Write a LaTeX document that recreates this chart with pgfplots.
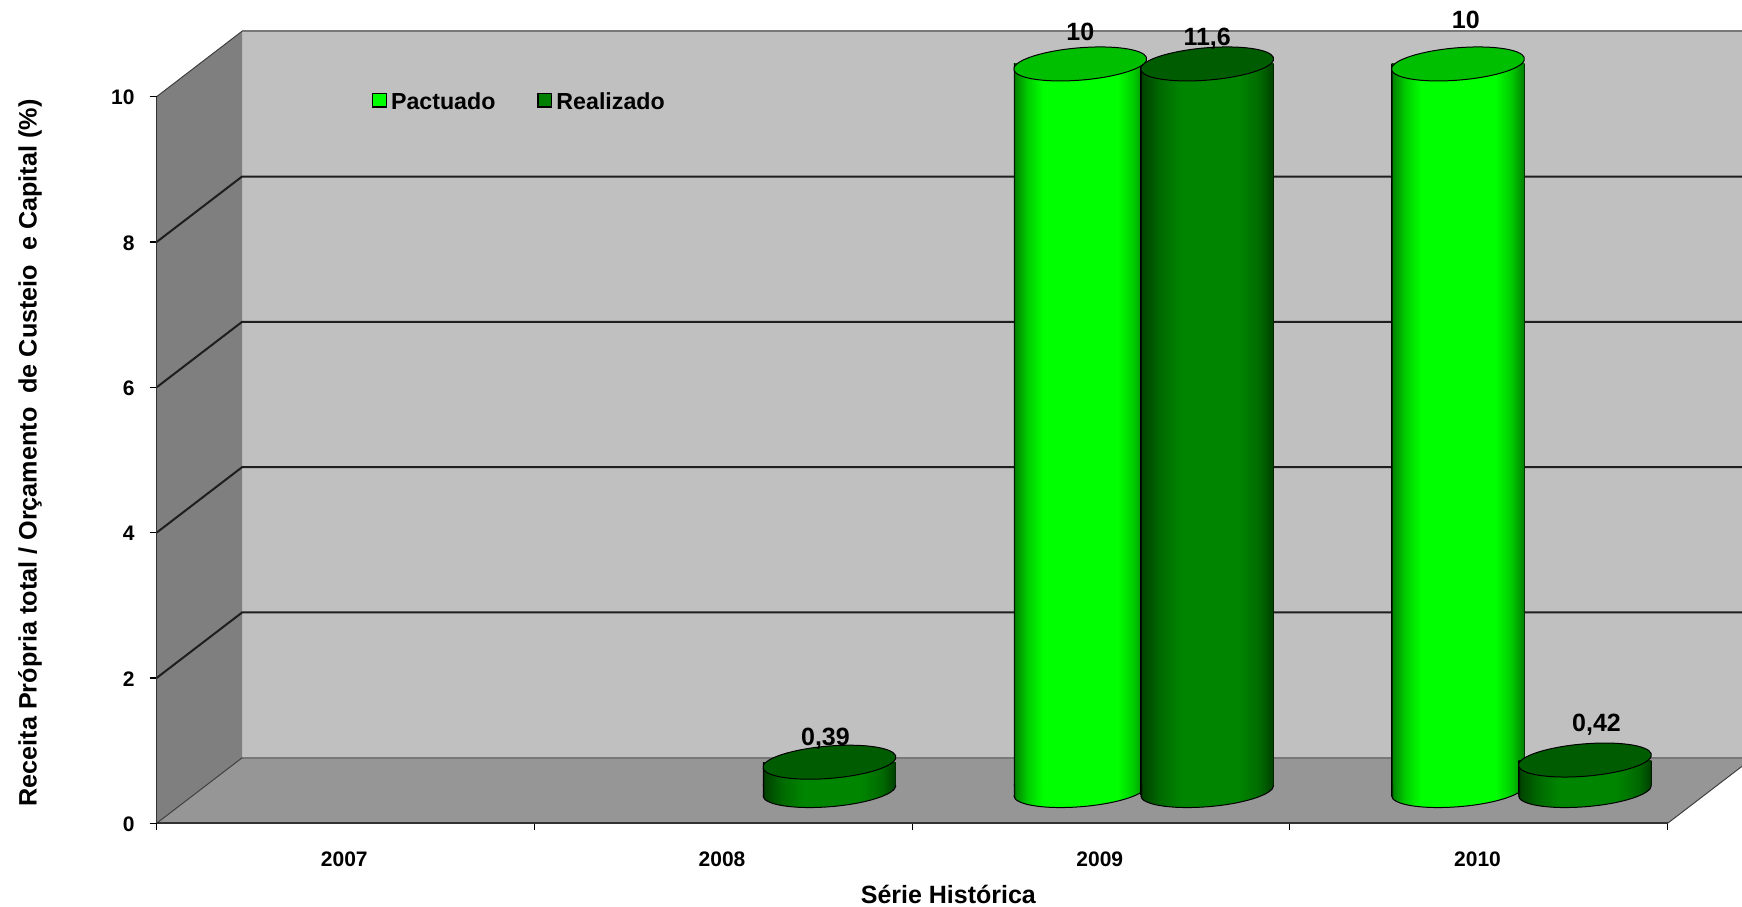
\documentclass[border=0pt]{standalone}
\usepackage{fontspec}
\setmainfont{Liberation Sans}
\usepackage{pgfplots}
\usepackage{pgfplotstable}
\pgfplotsset{compat=1.18}

\definecolor{sidewall}{RGB}{127,127,127}
\definecolor{floorgrey}{RGB}{150,150,150}
\definecolor{backwall}{RGB}{192,192,192}
\definecolor{edgegrey}{RGB}{120,120,120}
\definecolor{gridline}{RGB}{30,30,30}
\definecolor{pactcap}{RGB}{0,190,0}
\definecolor{realcap}{RGB}{0,92,0}

% Cylinder flanks: the path's width spans 25bp to 75bp of each shading
\pgfdeclarehorizontalshading{pactbody}{100bp}{
  rgb(0bp)=(0,0,0); rgb(25bp)=(0,0,0); rgb(25.5bp)=(0,.52,0);
  rgb(30bp)=(0,.80,0); rgb(36bp)=(0,1,0);
  rgb(64bp)=(0,1,0); rgb(70bp)=(0,.80,0);
  rgb(74.5bp)=(0,.52,0); rgb(75bp)=(0,0,0); rgb(100bp)=(0,0,0)}
\pgfdeclarehorizontalshading{realbody}{100bp}{
  rgb(0bp)=(0,0,0); rgb(25bp)=(0,0,0); rgb(25.5bp)=(0,.26,0);
  rgb(32bp)=(0,.41,0); rgb(40bp)=(0,.52,0);
  rgb(62bp)=(0,.52,0); rgb(70bp)=(0,.41,0);
  rgb(74.5bp)=(0,.26,0); rgb(75bp)=(0,0,0); rgb(100bp)=(0,0,0)}
\pgfdeclarehorizontalshading{pactflat}{100bp}{rgb(0bp)=(0,1,0); rgb(100bp)=(0,1,0)}
\pgfdeclarehorizontalshading{realflat}{100bp}{rgb(0bp)=(0,.5,0); rgb(100bp)=(0,.5,0)}

% Tilted ellipse closing the top of a cylinder
\pgfdeclareplotmark{cylcap}{%
  \pgfpathellipse{\pgfpointorigin}{\pgfqpoint{31.7pt}{0pt}}{\pgfqpoint{10pt}{8.5pt}}%
  \pgfusepathqfillstroke}
% Front half of the same ellipse, closing the foot of a cylinder
\newcommand{\cylfootarc}{%
  {\pgftransformcm{31.7}{0}{10}{8.5}{\pgfpointorigin}%
   \pgfpathmoveto{\pgfpointpolar{17.5}{1pt}}%
   \pgfpatharc{17.5}{-162.5}{1pt}}}
\newcommand{\cylfoot}[1]{%
  \cylfootarc
  \pgfpathlineto{\pgfqpoint{-33.25pt}{3.2pt}}%
  \pgfpathlineto{\pgfqpoint{33.25pt}{3.2pt}}%
  \pgfpathclose
  \pgfshadepath{#1}{0}\pgfusepath{discard}%
  \cylfootarc
  \pgfusepath{stroke}}
\pgfdeclareplotmark{pactbase}{\cylfoot{pactbody}}
\pgfdeclareplotmark{realbase}{\cylfoot{realbody}}

% x: category index with the side-by-side offset; dx, dy: label placement in pt
\pgfplotstableread{
x     v    label dx  dy
1.832 10   10    0.0 15.8
2.832 10   10    3.9 21.8
}\pactuado
\pgfplotstableread{
x     v    label dx   dy
1.168 0.39 0,39  -2.0 11.8
2.168 11.6 11,6  0.0  12.6
3.168 0.42 0,42  5.8  17.9
}\realizado

\newcommand{\depth}{42.75pt,32.75pt}

\begin{document}
\begin{tikzpicture}
\useasboundingbox (0,0) rectangle (871pt,453pt);
\clip (0,0) rectangle (871pt,453pt);

% Frame of the chart: side wall, floor, back wall, value axis and years
\begin{axis}[
  at={(78.3pt,41.35pt)}, anchor=south west,
  scale only axis, width=755.5pt, height=363.3pt,
  xmin=-0.5, xmax=3.5, ymin=0, ymax=10,
  clip=false, axis on top=true,
  axis lines*=left,
  axis line style={draw=black!80, line width=0.9pt, -},
  tick align=outside, major tick length=3.5pt,
  tick style={draw=black, line width=0.6pt},
  ytick={0,2,4,6,8,10},
  xtick={-0.5,0.5,1.5,2.5,3.5}, xticklabels={},
  extra x ticks={0,1,2,3},
  extra x tick labels={2007,2008,2009,2010},
  extra x tick style={major tick length=0pt, tick style={draw=none}},
  /pgf/number format/assume math mode=true,
  tick label style={font=\fontsize{10.5pt}{12pt}\bfseries},
  yticklabel style={xshift=-4pt, yshift=-0.4pt},
  xticklabel style={yshift=-10.7pt, xshift=-0.6pt},
  xlabel={Série Histórica},
  ylabel={Receita Própria total / Orçamento~ de Custeio~ e Capital (\%)},
  every axis x label/.style={at={(axis description cs:0.524,-0.0973)}, anchor=center,
    font=\fontsize{12.5pt}{14pt}\bfseries},
  every axis y label/.style={at={(axis description cs:-0.0838,0.5096)}, anchor=center, rotate=90,
    font=\fontsize{12.6pt}{14pt}\bfseries},
]
  \fill[backwall] ([shift={(\depth)}]axis cs:-0.5,0) rectangle ([shift={(\depth)}]axis cs:3.7,10);
  \fill[sidewall] (axis cs:-0.5,0) -- ([shift={(\depth)}]axis cs:-0.5,0)
     -- ([shift={(\depth)}]axis cs:-0.5,10) -- (axis cs:-0.5,10) -- cycle;
  \fill[floorgrey] (axis cs:-0.5,0) -- ([shift={(\depth)}]axis cs:-0.5,0)
     -- ([shift={(\depth)}]axis cs:3.7,0) -- ([shift={(\depth)}]axis cs:3.5,0) -- (axis cs:3.5,0) -- cycle;
  % Value gridlines on the side wall and the back wall
  \pgfplotsinvokeforeach{2,4,6,8}{
    \draw[gridline, line width=1pt] (axis cs:-0.5,#1) -- ([shift={(\depth)}]axis cs:-0.5,#1)
       -- ([shift={(\depth)}]axis cs:3.7,#1);
  }
  \draw[edgegrey, line width=1.2pt] ([shift={(\depth)}]axis cs:-0.5,10) -- ([shift={(\depth)}]axis cs:3.7,10);
  \draw[edgegrey, line width=1.2pt] ([shift={(\depth)}]axis cs:-0.5,0) -- ([shift={(\depth)}]axis cs:3.7,0);
  \draw[black!75, line width=0.5pt] (axis cs:-0.5,10) -- ([shift={(\depth)}]axis cs:-0.5,10);
  \draw[black!75, line width=0.5pt] (axis cs:-0.5,0) -- ([shift={(\depth)}]axis cs:-0.5,0);
  \draw[black!75, line width=0.5pt] (axis cs:3.5,0) -- ([shift={(\depth)}]axis cs:3.5,0);
\end{axis}

% Cylinders stand halfway into the depth of the floor
\begin{axis}[
  at={(99.675pt,57.725pt)}, anchor=south west,
  scale only axis, width=755.5pt, height=363.3pt,
  xmin=-0.5, xmax=3.5, ymin=0, ymax=10,
  clip=false, hide axis,
  legend columns=2,
  legend style={at={(axis description cs:0.1143,0.9474)}, anchor=west, draw=none, fill=none,
    inner sep=0pt, outer sep=0pt, font=\fontsize{11.6pt}{14pt}\bfseries,
    /tikz/every even column/.append style={column sep=19pt}},
  y filter/.expression={min(y,10)},
  % One plot per cylinder, so that each flank gets a shading of its own.
  % The flank starts where the ends of the foot ellipse lie, 2.56pt above its centre.
  cylinder body/.style={ybar, bar width=66.5pt, bar shift=0pt, draw=none,
    shade, shading=#1,
    yshift=2.56pt, y filter/.expression={min(y,10)-0.0705}},
  cap marks/.style={only marks, mark=cylcap,
    mark options={draw=black, line width=0.5pt, fill=#1},
    visualization depends on={\thisrow{dx} \as \labeldx},
    visualization depends on={\thisrow{dy} \as \labeldy},
    point meta=explicit symbolic,
    nodes near coords,
    every node near coord/.append style={anchor=center, inner sep=0pt, text=black,
      font=\fontsize{12.5pt}{14pt}\bfseries, xshift=\labeldx pt, yshift=\labeldy pt}},
]
  \addplot[only marks, mark=pactbase, mark options={draw=black, line width=0.5pt}, forget plot]
    table[x=x, y expr=0] {\pactuado};
  \addplot[cylinder body=pactbody, skip coords between index={1}{2},
    legend image code/.code={\filldraw[shading=pactflat, draw=black, line width=0.7pt]
      (0pt,-5pt) rectangle (6.8pt,1.8pt);}]
    table[x=x, y=v] {\pactuado};
  \addlegendentry{Pactuado}
  \addplot[cylinder body=pactbody, skip coords between index={0}{1}, forget plot]
    table[x=x, y=v] {\pactuado};

  \addplot[only marks, mark=realbase, mark options={draw=black, line width=0.5pt}, forget plot]
    table[x=x, y expr=0] {\realizado};
  \addplot[cylinder body=realbody, skip coords between index={1}{3},
    legend image code/.code={\filldraw[shading=realflat, draw=black, line width=0.7pt]
      (0pt,-5pt) rectangle (6.8pt,1.8pt);}]
    table[x=x, y=v] {\realizado};
  \addlegendentry{Realizado}
  \addplot[cylinder body=realbody, skip coords between index={0}{1},
    skip coords between index={2}{3}, forget plot]
    table[x=x, y=v] {\realizado};
  \addplot[cylinder body=realbody, skip coords between index={0}{2}, forget plot]
    table[x=x, y=v] {\realizado};

  \addplot[cap marks=realcap, forget plot] table[x=x, y=v, meta=label] {\realizado};
  \addplot[cap marks=pactcap, forget plot] table[x=x, y=v, meta=label] {\pactuado};
\end{axis}
\end{tikzpicture}
\end{document}
